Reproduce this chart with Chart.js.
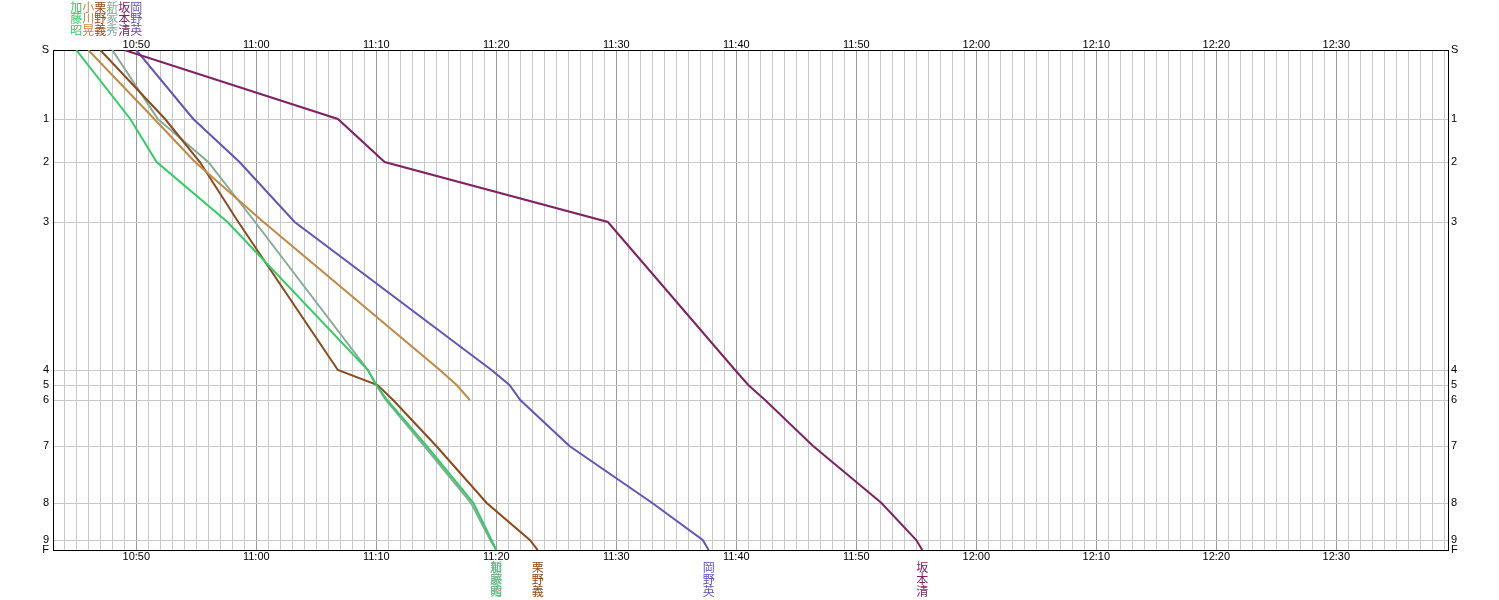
<!DOCTYPE html>
<html>
<head>
<meta charset="utf-8">
<script src="https://cdn.jsdelivr.net/npm/chart.js@4.4.1/dist/chart.umd.min.js"></script>
<style>
  html, body { margin: 0; padding: 0; background: #fff; }
  #wrap { width: 1499px; height: 600px; position: relative; }
</style>
</head>
<body>
<div id="wrap"><canvas id="splitChart"></canvas></div>
<script>
// controls and where they sit on the vertical axis
const controls = ["S", "1", "2", "3", "4", "5", "6", "7", "8", "9", "F"];
const controlPos = [0, 69, 112, 172, 320, 335, 350, 396, 453, 490, 500];

// runners, in start order
const runners = ["加藤昭", "小川晃", "栗野義", "新家秀", "坂本清", "岡野英"];
const colors = ["#33cc66", "#c08a44", "#8b4a1c", "#88aa99", "#7e2262", "#6652b8"];

// passing times at each control, minutes after 10:00
const timesKato = [45, 49.5, 51.7, 57.6, 69.3, 70.0, 70.9, 74.2, 78.1, 79.6, 80.0];
const timesOgawa = [46, 51.5, 54.9, 60.6, 75.3, 76.7, 77.8]; // stopped at 6
const timesKurino = [47, 52.4, 55.3, 58.5, 66.8, 70.1, 71.4, 75.0, 79.2, 82.8, 83.45];
const timesShinke = [48, 51.8, 56.0, 59.9, 69.3, 70.0, 70.8, 74.0, 77.9, 79.5, 80.0];
const timesSakamoto = [49, 66.8, 70.7, 89.3, 99.9, 101.0, 102.4, 106.4, 112.1, 115.0, 115.5];
const timesOkano = [50, 54.75, 58.6, 63.2, 79.6, 81.1, 82.0, 86.1, 93.0, 97.2, 97.7];

const runnerTimes = [timesKato, timesOgawa, timesKurino, timesShinke, timesSakamoto, timesOkano];

// time window of the x axis (minutes after 10:00)
const timeMin = 43.06;
const timeMax = 159.31;

const minuteTicks = [];
for (let v = 44; v <= 159; v++) minuteTicks.push(v);
const majorTicks = [];
for (let v = 50; v <= 150; v += 10) majorTicks.push(v);

function fmtTime(v) {
    const h = 10 + Math.floor(v / 60);
    const m = v % 60;
    return h + ":" + String(m).padStart(2, "0");
}

const labelFont = { family: "Liberation Sans", size: 11, lineHeight: 1 };

// names drawn vertically above the start and below the finish
const namePlugin = {
    id: "runnerNames",
    afterDraw(chart) {
        const ctx = chart.ctx;
        const xs = chart.scales.x;
        const area = chart.chartArea;
        ctx.save();
        ctx.font = '12px "Noto Sans CJK JP"';
        ctx.textAlign = "center";
        ctx.textBaseline = "middle";
        runners.forEach((name, i) => {
            const t = runnerTimes[i];
            ctx.fillStyle = colors[i];
            const xStart = xs.getPixelForValue(t[0]);
            [...name].forEach((ch, k) => {
                ctx.fillText(ch, xStart, area.top - 43 + k * 11.7);
            });
            if (t.length === controls.length) {
                const xEnd = xs.getPixelForValue(t[t.length - 1]);
                [...name].forEach((ch, k) => {
                    ctx.fillText(ch, xEnd, area.bottom + 17 + k * 12);
                });
            }
        });
        ctx.restore();
    }
};

const datasets = runners.map((name, i) => ({
    label: name,
    data: runnerTimes[i].map((t, k) => ({ x: t, y: controlPos[k] })),
    borderColor: colors[i],
    backgroundColor: colors[i],
    borderWidth: 2,
    pointRadius: 0,
    tension: 0,
    fill: false,
    xAxisID: "x",
    yAxisID: "y"
}));

const ctx = document.getElementById("splitChart").getContext("2d");
const splitChart = new Chart(ctx, {
    type: "line",
    data: { datasets: datasets },
    plugins: [namePlugin],
    options: {
        responsive: true,
        maintainAspectRatio: false,
        animation: false,
        layout: { padding: 0 },
        plugins: {
            legend: { display: false },
            tooltip: { enabled: false }
        },
        scales: {
            x: {
                type: "linear",
                position: "bottom",
                min: timeMin,
                max: timeMax,
                bounds: "data",
                afterBuildTicks: (axis) => { axis.ticks = minuteTicks.map((v) => ({ value: v })); },
                afterFit: (axis) => { axis.height = 50; },
                grid: {
                    drawTicks: false,
                    color: (c) => (c.tick && c.tick.value % 10 === 0 ? "#9a9a9a" : "#c8c8c8")
                },
                border: { color: "#000", width: 1 },
                ticks: {
                    autoSkip: false,
                    maxRotation: 0,
                    minRotation: 0,
                    padding: 1,
                    color: "#000",
                    font: labelFont,
                    callback: (v) => (v % 10 === 0 ? fmtTime(v) : "")
                }
            },
            x2: {
                type: "linear",
                position: "top",
                min: timeMin,
                max: timeMax,
                bounds: "data",
                afterBuildTicks: (axis) => { axis.ticks = majorTicks.map((v) => ({ value: v })); },
                afterFit: (axis) => { axis.height = 50; },
                grid: { display: false, drawTicks: false },
                border: { color: "#000", width: 1 },
                ticks: {
                    autoSkip: false,
                    maxRotation: 0,
                    minRotation: 0,
                    padding: 0,
                    color: "#000",
                    font: labelFont,
                    callback: (v) => fmtTime(v)
                }
            },
            y: {
                type: "linear",
                position: "left",
                reverse: true,
                min: 0,
                max: 500,
                bounds: "data",
                afterBuildTicks: (axis) => { axis.ticks = controlPos.map((v) => ({ value: v })); },
                afterFit: (axis) => { axis.width = 53; },
                grid: { drawTicks: false, color: "#c8c8c8" },
                border: { color: "#000", width: 1 },
                ticks: {
                    autoSkip: false,
                    padding: 4,
                    color: "#000",
                    font: labelFont,
                    callback: (v) => controls[controlPos.indexOf(v)]
                }
            },
            y2: {
                type: "linear",
                position: "right",
                reverse: true,
                min: 0,
                max: 500,
                bounds: "data",
                afterBuildTicks: (axis) => { axis.ticks = controlPos.map((v) => ({ value: v })); },
                afterFit: (axis) => { axis.width = 51; },
                grid: { display: false, drawTicks: false },
                border: { color: "#000", width: 1 },
                ticks: {
                    autoSkip: false,
                    padding: 3,
                    color: "#000",
                    font: labelFont,
                    callback: (v) => controls[controlPos.indexOf(v)]
                }
            }
        }
    }
});
</script>
</body>
</html>
